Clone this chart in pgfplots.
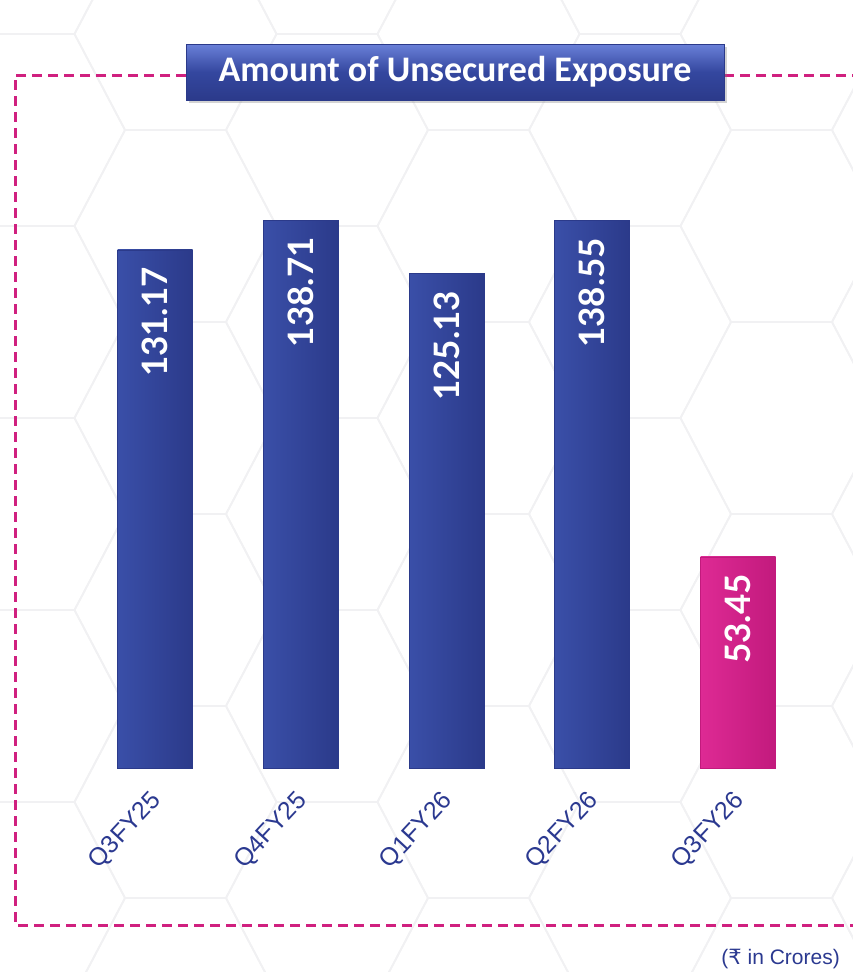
\documentclass[border=0pt]{standalone}
\usepackage{pgfplots}
\pgfplotsset{compat=1.18}
\usepackage{fontspec}
\setmainfont{Liberation Sans}
\newfontfamily\titlefont{Carlito}
\newfontfamily\numfont{Lato}
\newfontfamily\dejavu{DejaVu Sans}
\usetikzlibrary{shadows}
\definecolor{barblue}{HTML}{34479F}
\definecolor{barbluel}{HTML}{3A4FA8}
\definecolor{barblued}{HTML}{2B3A8A}
\definecolor{titletop}{HTML}{6A80D8}
\definecolor{barpinkl}{HTML}{DE2A94}
\definecolor{barpinkd}{HTML}{C21A7D}
\definecolor{framepink}{HTML}{D0207F}
\definecolor{ticktext}{HTML}{2B3990}
\definecolor{hexline}{HTML}{F1F1F3}
\begin{document}
\begin{tikzpicture}[x=1pt,y=1pt]
\useasboundingbox (0,0) rectangle (853,-972);
% faint hexagon background
\begin{scope}
\clip (0,0) rectangle (853,-972);
\foreach \k in {-1,...,6} {
  \pgfmathsetmacro\cx{175.5+151.5*\k}
  \pgfmathsetmacro\off{ifthenelse(mod(\k+2,2)==0,0,96)}
  \foreach \r in {-1,...,6} {
    \pgfmathsetmacro\cy{-(34+\off+192*\r)}
    \draw[hexline, line width=1.8pt] (\cx-50.5,\cy+96) -- (\cx+50.5,\cy+96) -- (\cx+101,\cy) -- (\cx+50.5,\cy-96) -- (\cx-50.5,\cy-96) -- (\cx-101,\cy) -- cycle;
  }
}
\end{scope}
% dashed frame
\draw[framepink, line width=3pt, dash pattern=on 10pt off 6pt] (186,-75) -- (15,-75) -- (15,-925) -- (860,-925);
\draw[framepink, line width=3pt, dash pattern=on 10pt off 6pt] (724,-75) -- (860,-75);
% title box
\node[draw=barblued, line width=0.6pt, top color=titletop, bottom color=barblued, middle color=barblue,
      minimum width=538pt, minimum height=56pt, inner sep=0pt, drop shadow={shadow xshift=3pt, shadow yshift=-3pt, opacity=0.35},
      text=white, font=\titlefont\bfseries\fontsize{36}{40}\selectfont] at (455,-72) {Amount of Unsecured Exposure};
\begin{axis}[
  at={(82.125pt,-768pt)}, anchor=south west,
  scale only axis, width=728.75pt, height=592.5pt,
  xmin=-0.5, xmax=4.5, ymin=0, ymax=150,
  axis line style={draw=none},
  ytick=\empty,
  xtick={0,1,2,3,4},
  xticklabels={Q3FY25,Q4FY25,Q1FY26,Q2FY26,Q3FY26},
  major tick length=0pt,
  xticklabel style={xshift=-6pt, yshift=-21pt, rotate=47, anchor=north east, text=ticktext, font=\fontsize{25}{25}\selectfont, inner sep=0pt},
  /pgf/number format/assume math mode=true,
  /pgf/number format/fixed, /pgf/number format/precision=2, /pgf/number format/fixed zerofill,
  nodes near coords,
  every node near coord/.append style={rotate=90, anchor=east, inner xsep=17pt, inner ysep=0pt, text=white,
     font=\numfont\bfseries\fontsize{35}{35}\selectfont},
  clip=false,
  bluebar/.style={ybar, bar width=75pt, bar shift=0pt, draw=barblued, line width=0.6pt, left color=barbluel, right color=barblued},
]
\addplot[bluebar] coordinates {(0,131.17)};
\addplot[bluebar] coordinates {(1,138.71)};
\addplot[bluebar] coordinates {(2,125.13)};
\addplot[bluebar] coordinates {(3,138.55)};
\addplot[ybar, bar width=75pt, bar shift=0pt, draw=barpinkd, line width=0.6pt, left color=barpinkl, right color=barpinkd]
  coordinates {(4,53.45)};
\end{axis}
\node[anchor=base east, text=ticktext, font=\fontsize{21}{21}\selectfont, inner sep=0pt] at (840,-964) {({\dejavu ₹} in Crores)};
\end{tikzpicture}
\end{document}
